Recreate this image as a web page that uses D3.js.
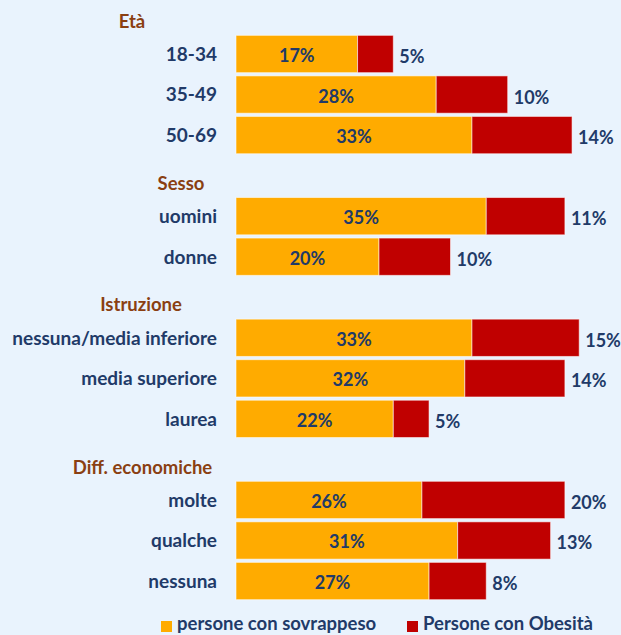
<!DOCTYPE html>
<html>
<head>
<meta charset="utf-8">
<script src="https://cdn.jsdelivr.net/npm/d3@7"></script>
<style>
  html, body { margin: 0; padding: 0; background: #e9f3fd; }
  svg { display: block; }
  text { font-family: Lato, "Open Sans", sans-serif; font-weight: bold; }
</style>
</head>
<body>
<svg id="chart" width="621" height="635"></svg>
<script>
// ---- data ----
const groups = ["Età", "Sesso", "Istruzione", "Diff. economiche"];
const categories = [
  ["18-34", "35-49", "50-69"],
  ["uomini", "donne"],
  ["nessuna/media inferiore", "media superiore", "laurea"],
  ["molte", "qualche", "nessuna"]
];
const sovrappeso = [17, 28, 33, 35, 20, 33, 32, 22, 26, 31, 27];
const obesita    = [5, 10, 14, 11, 10, 15, 14, 5, 20, 13, 8];
const seriesNames = ["persone con sovrappeso", "Persone con Obesità"];

// ---- layout ----
const colors = ["#ffab00", "#c00000"];
const textColor = "#213a68";
const headerColor = "#8a3f12";
const headerCenterX = [132, 181, 141, 142.5];

const rows = [];
let k = 0;
groups.forEach((g, gi) => {
  rows.push({ id: "h" + gi, type: "header", label: g, gi });
  categories[gi].forEach((c, ci) => {
    rows.push({ id: "r" + k, type: "bar", label: c, s: sovrappeso[k], o: obesita[k] });
    k++;
  });
});

const svg = d3.select("#chart");
const y = d3.scaleBand().domain(rows.map(r => r.id)).range([-6.8, 601.3]).paddingInner(0.08).paddingOuter(0.04);
const x = d3.scaleLinear().domain([0, 50]).range([236, 236 + 50 * 7.15]);

const barRows = rows.filter(r => r.type === "bar");
const headerRows = rows.filter(r => r.type === "header");

const g = svg.append("g");

// orange segments
g.selectAll("rect.s").data(barRows).join("rect")
  .attr("class", "s")
  .attr("x", x(0))
  .attr("y", d => y(d.id))
  .attr("width", d => x(d.s) - x(0))
  .attr("height", y.bandwidth())
  .attr("fill", colors[0])
  .attr("stroke", "rgba(255,255,255,0.55)")
  .attr("stroke-width", 1);

// red segments
g.selectAll("rect.o").data(barRows).join("rect")
  .attr("class", "o")
  .attr("x", d => x(d.s))
  .attr("y", d => y(d.id))
  .attr("width", d => x(d.s + d.o) - x(d.s))
  .attr("height", y.bandwidth())
  .attr("fill", colors[1])
  .attr("stroke", "rgba(255,255,255,0.55)")
  .attr("stroke-width", 1);

// values inside orange
g.selectAll("text.sv").data(barRows).join("text")
  .attr("class", "sv")
  .attr("x", d => (x(0) + x(d.s)) / 2)
  .attr("y", d => y(d.id) + y.bandwidth() / 2 + 1.5)
  .attr("dy", "0.36em")
  .attr("text-anchor", "middle")
  .attr("font-size", 18)
  .attr("fill", textColor)
  .text(d => d.s + "%");

// values right of red
g.selectAll("text.ov").data(barRows).join("text")
  .attr("class", "ov")
  .attr("x", d => x(d.s + d.o) + 6)
  .attr("y", d => y(d.id) + y.bandwidth() / 2 + 2.5)
  .attr("dy", "0.36em")
  .attr("text-anchor", "start")
  .attr("font-size", 18)
  .attr("fill", textColor)
  .text(d => d.o + "%");

// category labels
g.selectAll("text.cat").data(barRows).join("text")
  .attr("class", "cat")
  .attr("x", 217)
  .attr("y", d => y(d.id) + y.bandwidth() / 2)
  .attr("dy", "0.36em")
  .attr("text-anchor", "end")
  .attr("font-size", 19)
  .attr("fill", textColor)
  .text(d => d.label);

// group headers
g.selectAll("text.hdr").data(headerRows).join("text")
  .attr("class", "hdr")
  .attr("x", d => headerCenterX[d.gi])
  .attr("y", d => y(d.id) + y.bandwidth() / 2 + 7.5)
  .attr("dy", "0.36em")
  .attr("text-anchor", "middle")
  .attr("font-size", 18.5)
  .attr("fill", headerColor)
  .text(d => d.label);

// legend
const legendX = [161, 407];
const lg = svg.append("g");
seriesNames.forEach((n, i) => {
  lg.append("rect")
    .attr("x", legendX[i]).attr("y", 621)
    .attr("width", 11).attr("height", 11)
    .attr("fill", colors[i]);
  lg.append("text")
    .attr("x", legendX[i] + 16).attr("y", 630)
    .attr("font-size", 18.5)
    .attr("fill", textColor)
    .text(n);
});
</script>
</body>
</html>
